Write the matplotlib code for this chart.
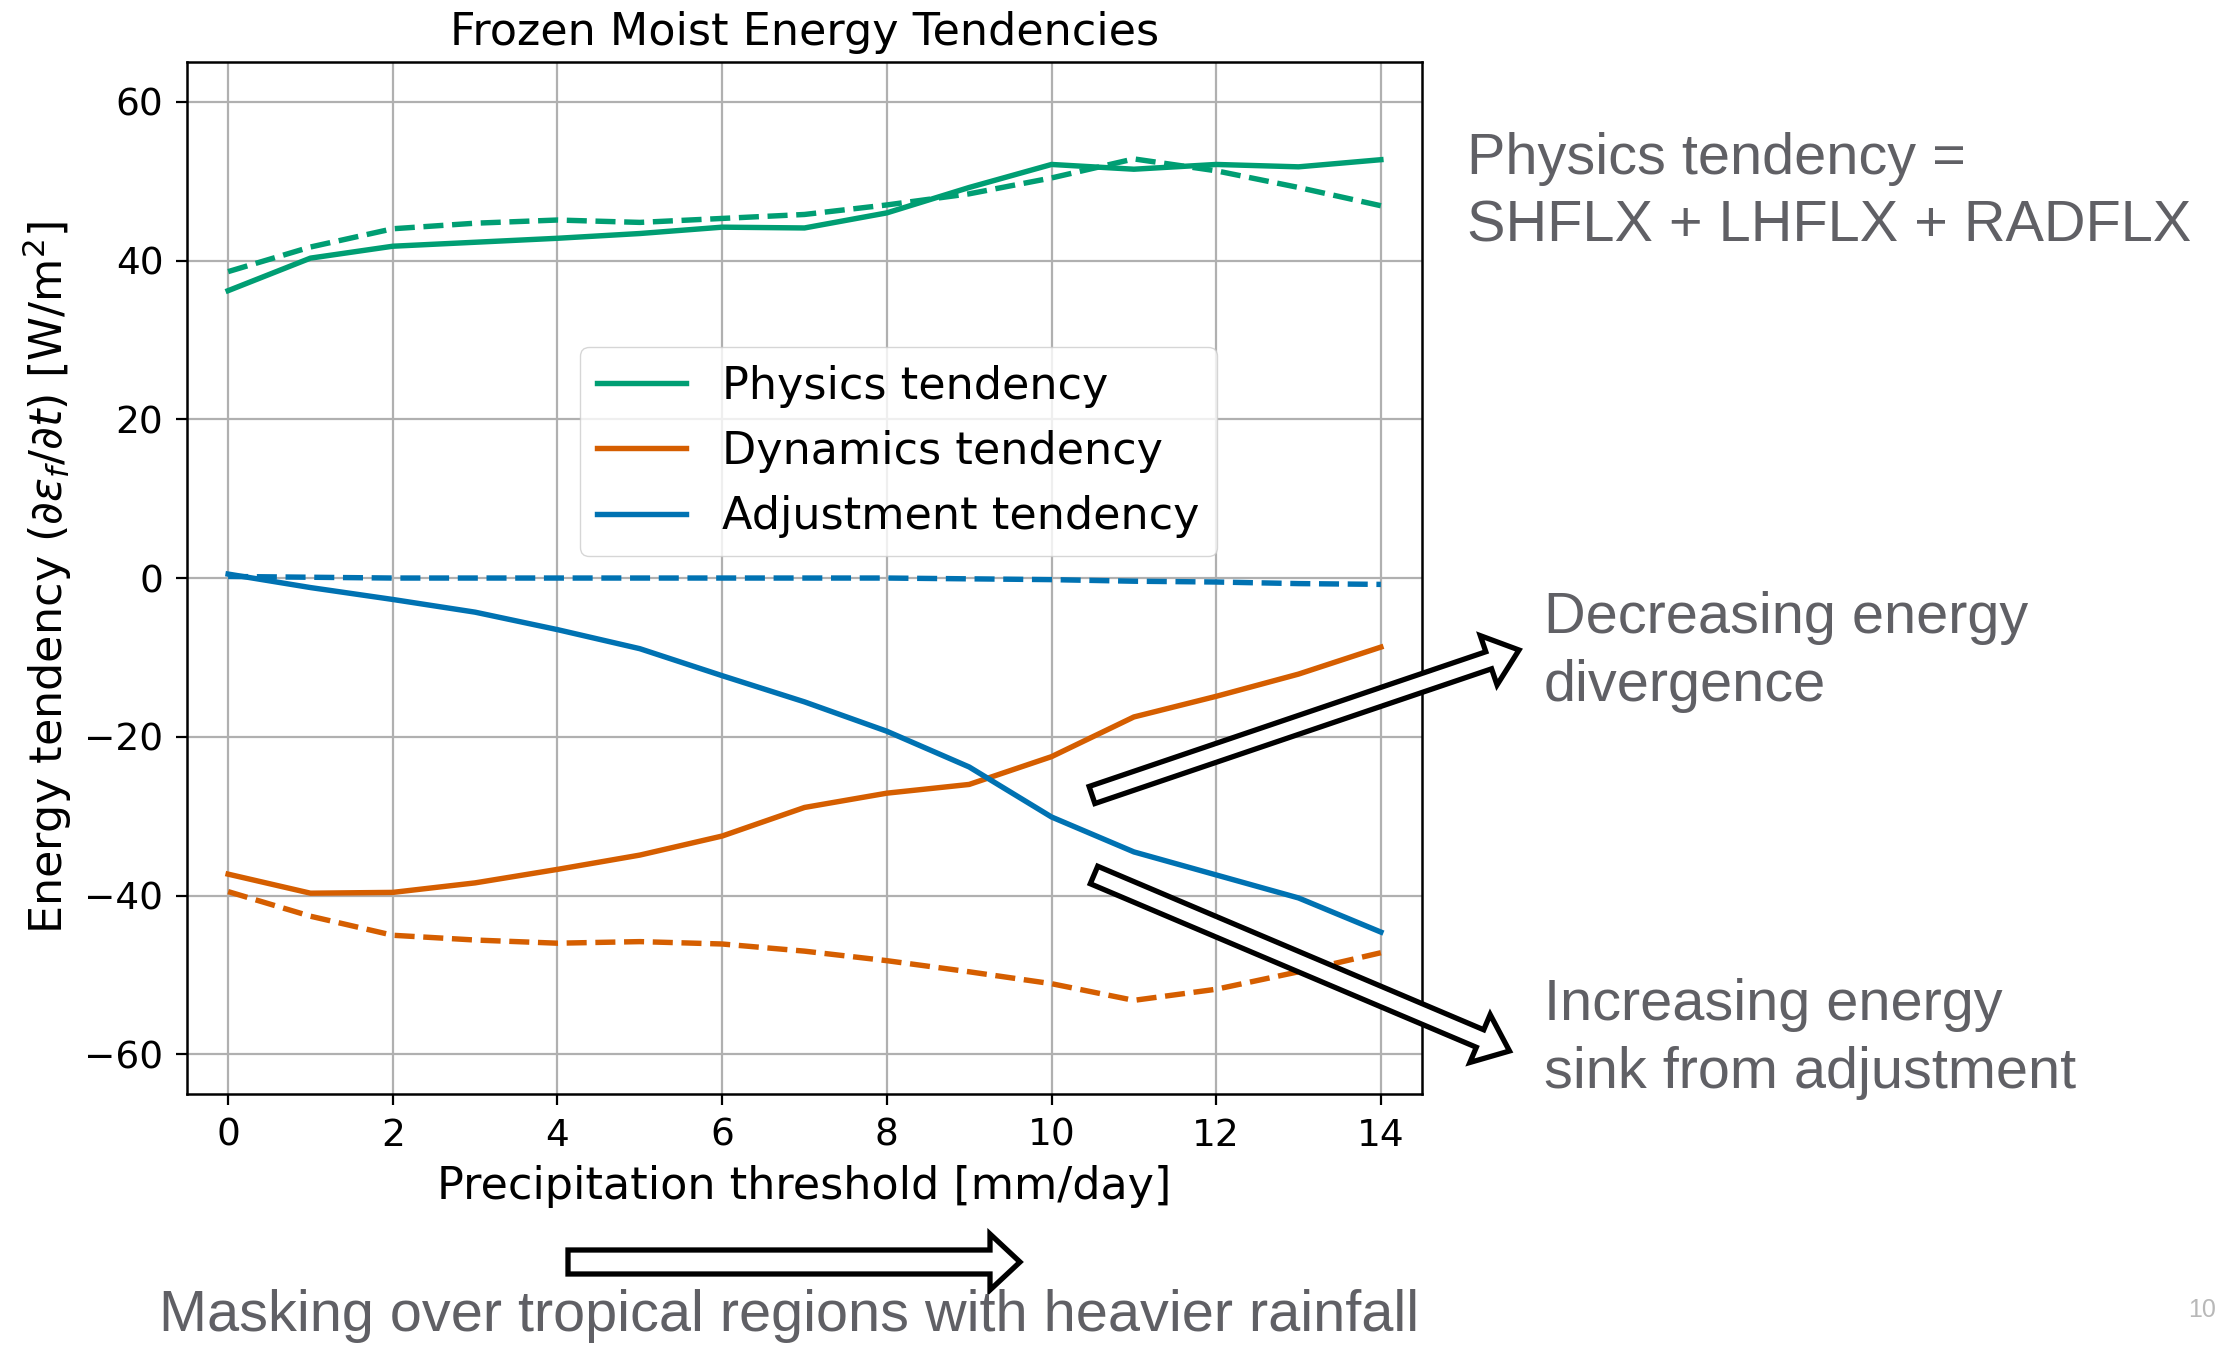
import matplotlib
matplotlib.use("Agg")
import matplotlib.pyplot as plt
from matplotlib.patches import FancyArrow

# precipitation thresholds [mm/day]
threshold = [0, 1, 2, 3, 4, 5, 6, 7, 8, 9, 10, 11, 12, 13, 14]

# solid lines
physics = [36.2, 40.3, 41.8, 42.3, 42.8, 43.4, 44.2, 44.1, 46.0, 49.2, 52.1, 51.5, 52.1, 51.8, 52.7]
dynamics = [-37.3, -39.7, -39.6, -38.4, -36.7, -34.9, -32.5, -28.9, -27.1, -26.0, -22.5, -17.5, -14.9, -12.1, -8.7]
adjustment = [0.5, -1.2, -2.7, -4.3, -6.5, -8.9, -12.3, -15.6, -19.3, -23.8, -30.1, -34.5, -37.4, -40.3, -44.6]

# dashed lines
physics_dash = [38.6, 41.7, 44.0, 44.7, 45.1, 44.8, 45.3, 45.8, 47.0, 48.4, 50.4, 52.8, 51.3, 49.2, 46.9]
dynamics_dash = [-39.5, -42.6, -45.0, -45.6, -46.0, -45.8, -46.1, -47.0, -48.2, -49.6, -51.1, -53.2, -51.8, -49.6, -47.2]
adjustment_dash = [0.2, 0.1, 0.0, 0.0, 0.0, 0.0, 0.0, 0.0, 0.0, -0.1, -0.2, -0.4, -0.5, -0.7, -0.8]

GREEN = "#009E73"
ORANGE = "#D55E00"
BLUE = "#0072B2"
GRAY = "#606065"
FS = 32
LW = 3.9
DASH = (0, (3.7, 1.6))

fig = plt.figure(figsize=(22.23, 13.46), dpi=100)
ax = fig.add_axes([0.0841, 0.1872, 0.5556, 0.7667])

ax.plot(threshold, physics, color=GREEN, lw=LW, label="Physics tendency")
ax.plot(threshold, dynamics, color=ORANGE, lw=LW, label="Dynamics tendency")
ax.plot(threshold, adjustment, color=BLUE, lw=LW, label="Adjustment tendency")
ax.plot(threshold, physics_dash, color=GREEN, lw=LW, ls=DASH)
ax.plot(threshold, dynamics_dash, color=ORANGE, lw=LW, ls=DASH)
ax.plot(threshold, adjustment_dash, color=BLUE, lw=LW, ls=DASH)

ax.set_xlim(-0.5, 14.5)
ax.set_ylim(-65, 65)
ax.set_xticks(range(0, 15, 2))
ax.set_yticks(range(-60, 61, 20))
ax.grid(True, color="#b0b0b0", lw=1.6)
ax.set_axisbelow(True)
ax.tick_params(labelsize=27, length=8, width=1.6, pad=9)
for s in ax.spines.values():
    s.set_linewidth(1.8)

ax.set_title("Frozen Moist Energy Tendencies", fontsize=FS, pad=12)
ax.set_xlabel("Precipitation threshold [mm/day]", fontsize=FS, labelpad=8)
ax.set_ylabel(r"Energy tendency ($\partial\varepsilon_f/\partial t$) [W/m$^2$]",
              fontsize=FS, labelpad=7)

ax.legend(loc="upper left", bbox_to_anchor=(0.318, 0.724), borderaxespad=0,
          fontsize=FS, handlelength=2.0, framealpha=0.8)

# side notes
NOTE = dict(fontsize=41.5, color=GRAY, family="Liberation Sans", va="center")
fig.text(0.660, 0.8819, "Physics tendency =", **NOTE)
fig.text(0.660, 0.8314, "SHFLX + LHFLX + RADFLX", **NOTE)
fig.text(0.6946, 0.5409, "Decreasing energy", **NOTE)
fig.text(0.6946, 0.4903, "divergence", **NOTE)
fig.text(0.6946, 0.2533, "Increasing energy", **NOTE)
fig.text(0.6946, 0.2028, "sink from adjustment", **NOTE)
fig.text(0.0715, 0.0223, "Masking over tropical regions with heavier rainfall", **NOTE)
fig.text(0.9905, 0.0267, "10", fontsize=18, color="#b8b8b8", family="Liberation Sans",
         va="center", ha="center")

# block arrows (inches)
def block_arrow(x0, y0, x1, y1, w, hw, hl):
    a = FancyArrow(x0, y0, x1 - x0, y1 - y0, width=w, head_width=hw, head_length=hl,
                   length_includes_head=True, transform=fig.dpi_scale_trans,
                   facecolor="white", edgecolor="black", lw=3.8, clip_on=False)
    fig.patches.append(a)

block_arrow(10.92, 5.51, 15.19, 6.96, 0.18, 0.52, 0.32)
block_arrow(10.94, 4.71, 15.095, 2.95, 0.19, 0.52, 0.32)
block_arrow(5.68, 0.84, 10.20, 0.84, 0.24, 0.56, 0.30)

fig.savefig("out.png", dpi=100)
